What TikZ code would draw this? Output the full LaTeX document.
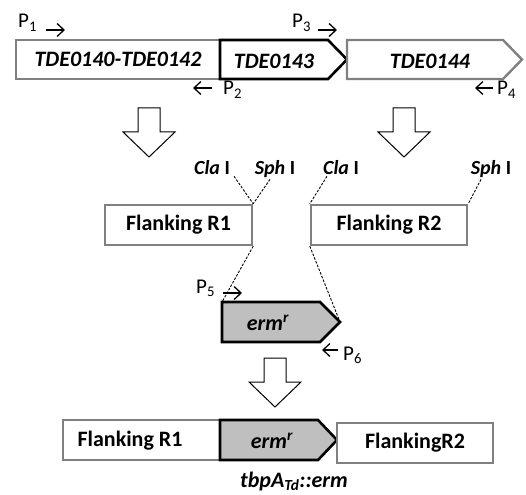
\documentclass[tikz,border=0pt]{standalone}
\usepackage{fontspec}
\setmainfont{Carlito}
\usetikzlibrary{arrows.meta}

\begin{document}
\begin{tikzpicture}[
  x=1pt, y=-1pt,
  genebox/.style={draw=gray, line width=2.4pt, fill=white},
  targetgene/.style={draw=black, line width=2.6pt, fill=white},
  markergene/.style={draw=black, line width=2.6pt, fill=black!25},
  genelabel/.style={font=\fontsize{22}{26}\selectfont\bfseries\itshape},
  flanklabel/.style={font=\fontsize{22}{26}\selectfont\bfseries},
  sitelabel/.style={font=\fontsize{20}{24}\selectfont\bfseries, inner sep=1pt},
  primerlabel/.style={font=\fontsize{21}{25}\selectfont, inner sep=0pt},
  primer/.style={-{Straight Barb[length=7pt, width=13pt]}, line width=1.3pt},
  site/.style={dash pattern=on 2.5pt off 1.5pt, line width=0.9pt},
  bigarrow/.pic={
    \draw[line width=1pt, fill=white]
      (-11,0) -- (11,0) -- (11,24) -- (26,24) -- (0,49)
      -- (-26,24) -- (-11,24) -- cycle;
  },
]
\useasboundingbox (0,0) rectangle (526,494);

% ===== TOP ROW: genomic locus =====
\node[genebox, genelabel, minimum width=204pt, minimum height=39pt]
  (locusA) at (118,59.5) {TDE0140-TDE0142};
\draw[targetgene] (220,40) -- (328,40) -- (347,59.5) -- (328,79) -- (220,79) -- cycle;
\node[genelabel] (locusB) at (274,61) {TDE0143};
\draw[genebox] (347,40) -- (503,40) -- (522,59.5) -- (503,79) -- (347,79) -- cycle;
\node[genelabel] (locusC) at (430,61) {TDE0144};

% primers
\node[primerlabel, anchor=base west] (pA) at (18,28) {P\textsubscript{1}};
\node[primerlabel, anchor=base west] (pB) at (223,95) {P\textsubscript{2}};
\node[primerlabel, anchor=base west] (pC) at (292,28) {P\textsubscript{3}};
\node[primerlabel, anchor=base west] (pD) at (497,95) {P\textsubscript{4}};
\coordinate (pAs) at (46,30);  \coordinate (pAe) at (65,30);
\coordinate (pBs) at (212,88); \coordinate (pBe) at (193,88);
\coordinate (pCs) at (318,30); \coordinate (pCe) at (337,30);
\coordinate (pDs) at (493,88); \coordinate (pDe) at (475,88);
\draw[primer] (pAs) -- (pAe);
\draw[primer] (pBs) -- (pBe);
\draw[primer] (pCs) -- (pCe);
\draw[primer] (pDs) -- (pDe);

\pic at (149,108) {bigarrow};
\pic at (404,108) {bigarrow};

% ===== MIDDLE: flanking regions and cassette =====
\node[sitelabel, anchor=base] (claA) at (212,175) {\itshape Cla\upshape~I};
\node[sitelabel, anchor=base] (sphA) at (275,175) {\itshape Sph\upshape~I};
\node[sitelabel, anchor=base] (claB) at (341,175) {\itshape Cla\upshape~I};
\node[sitelabel, anchor=base] (sphB) at (491,175) {\itshape Sph\upshape~I};

\node[genebox, flanklabel, minimum width=147pt, minimum height=40pt]
  (flankA) at (178.5,225) {Flanking R1};
\node[genebox, flanklabel, minimum width=156pt, minimum height=40pt]
  (flankB) at (389,225) {Flanking R2};

\draw[site] ([xshift=3pt]claA.south east) -- (flankA.north east);
\draw[site] ([xshift=-5pt]sphA.south) -- (flankA.north east);
\draw[site] ([xshift=5pt]claB.south west) -- (flankB.north west);
\draw[site] ([xshift=-10pt]sphB.south) -- (flankB.north east);

\coordinate (ermNW) at (222,302);
\coordinate (ermTip) at (340,322);
\draw[site] (flankA.south east) -- (ermNW);
\draw[site] (flankB.south west) -- (ermTip);
\draw[markergene] (ermNW) -- (320,302) -- (ermTip) -- (320,342) -- (222,342) -- cycle;
\node[genelabel] (erm) at (268,323) {erm\textsuperscript{r}};

\node[primerlabel, anchor=base west] (pE) at (196,293) {P\textsubscript{5}};
\node[primerlabel, anchor=base west] (pF) at (343,360) {P\textsubscript{6}};
\coordinate (pEs) at (223,293); \coordinate (pEe) at (242,293);
\coordinate (pFs) at (338,350); \coordinate (pFe) at (322,350);
\draw[primer] (pEs) -- (pEe);
\draw[primer] (pFs) -- (pFe);

\pic at (275,358) {bigarrow};

% ===== BOTTOM ROW: mutant allele =====
\node[genebox, minimum width=157pt, minimum height=40pt] (mutA) at (141.5,440) {};
\node[flanklabel] (mutAtext) at (130,441) {Flanking R1};
\draw[markergene] (220,420) -- (318,420) -- (337,440) -- (318,460) -- (220,460) -- cycle;
\node[genelabel] (mutB) at (272,441) {erm\textsuperscript{r}};
\node[genebox, flanklabel, minimum width=156pt, minimum height=40pt]
  (mutC) at (415,443) {FlankingR2};

\node[genelabel, anchor=base] (allele) at (294,487) {tbpA\textsubscript{Td}::erm};

\end{tikzpicture}
\end{document}
